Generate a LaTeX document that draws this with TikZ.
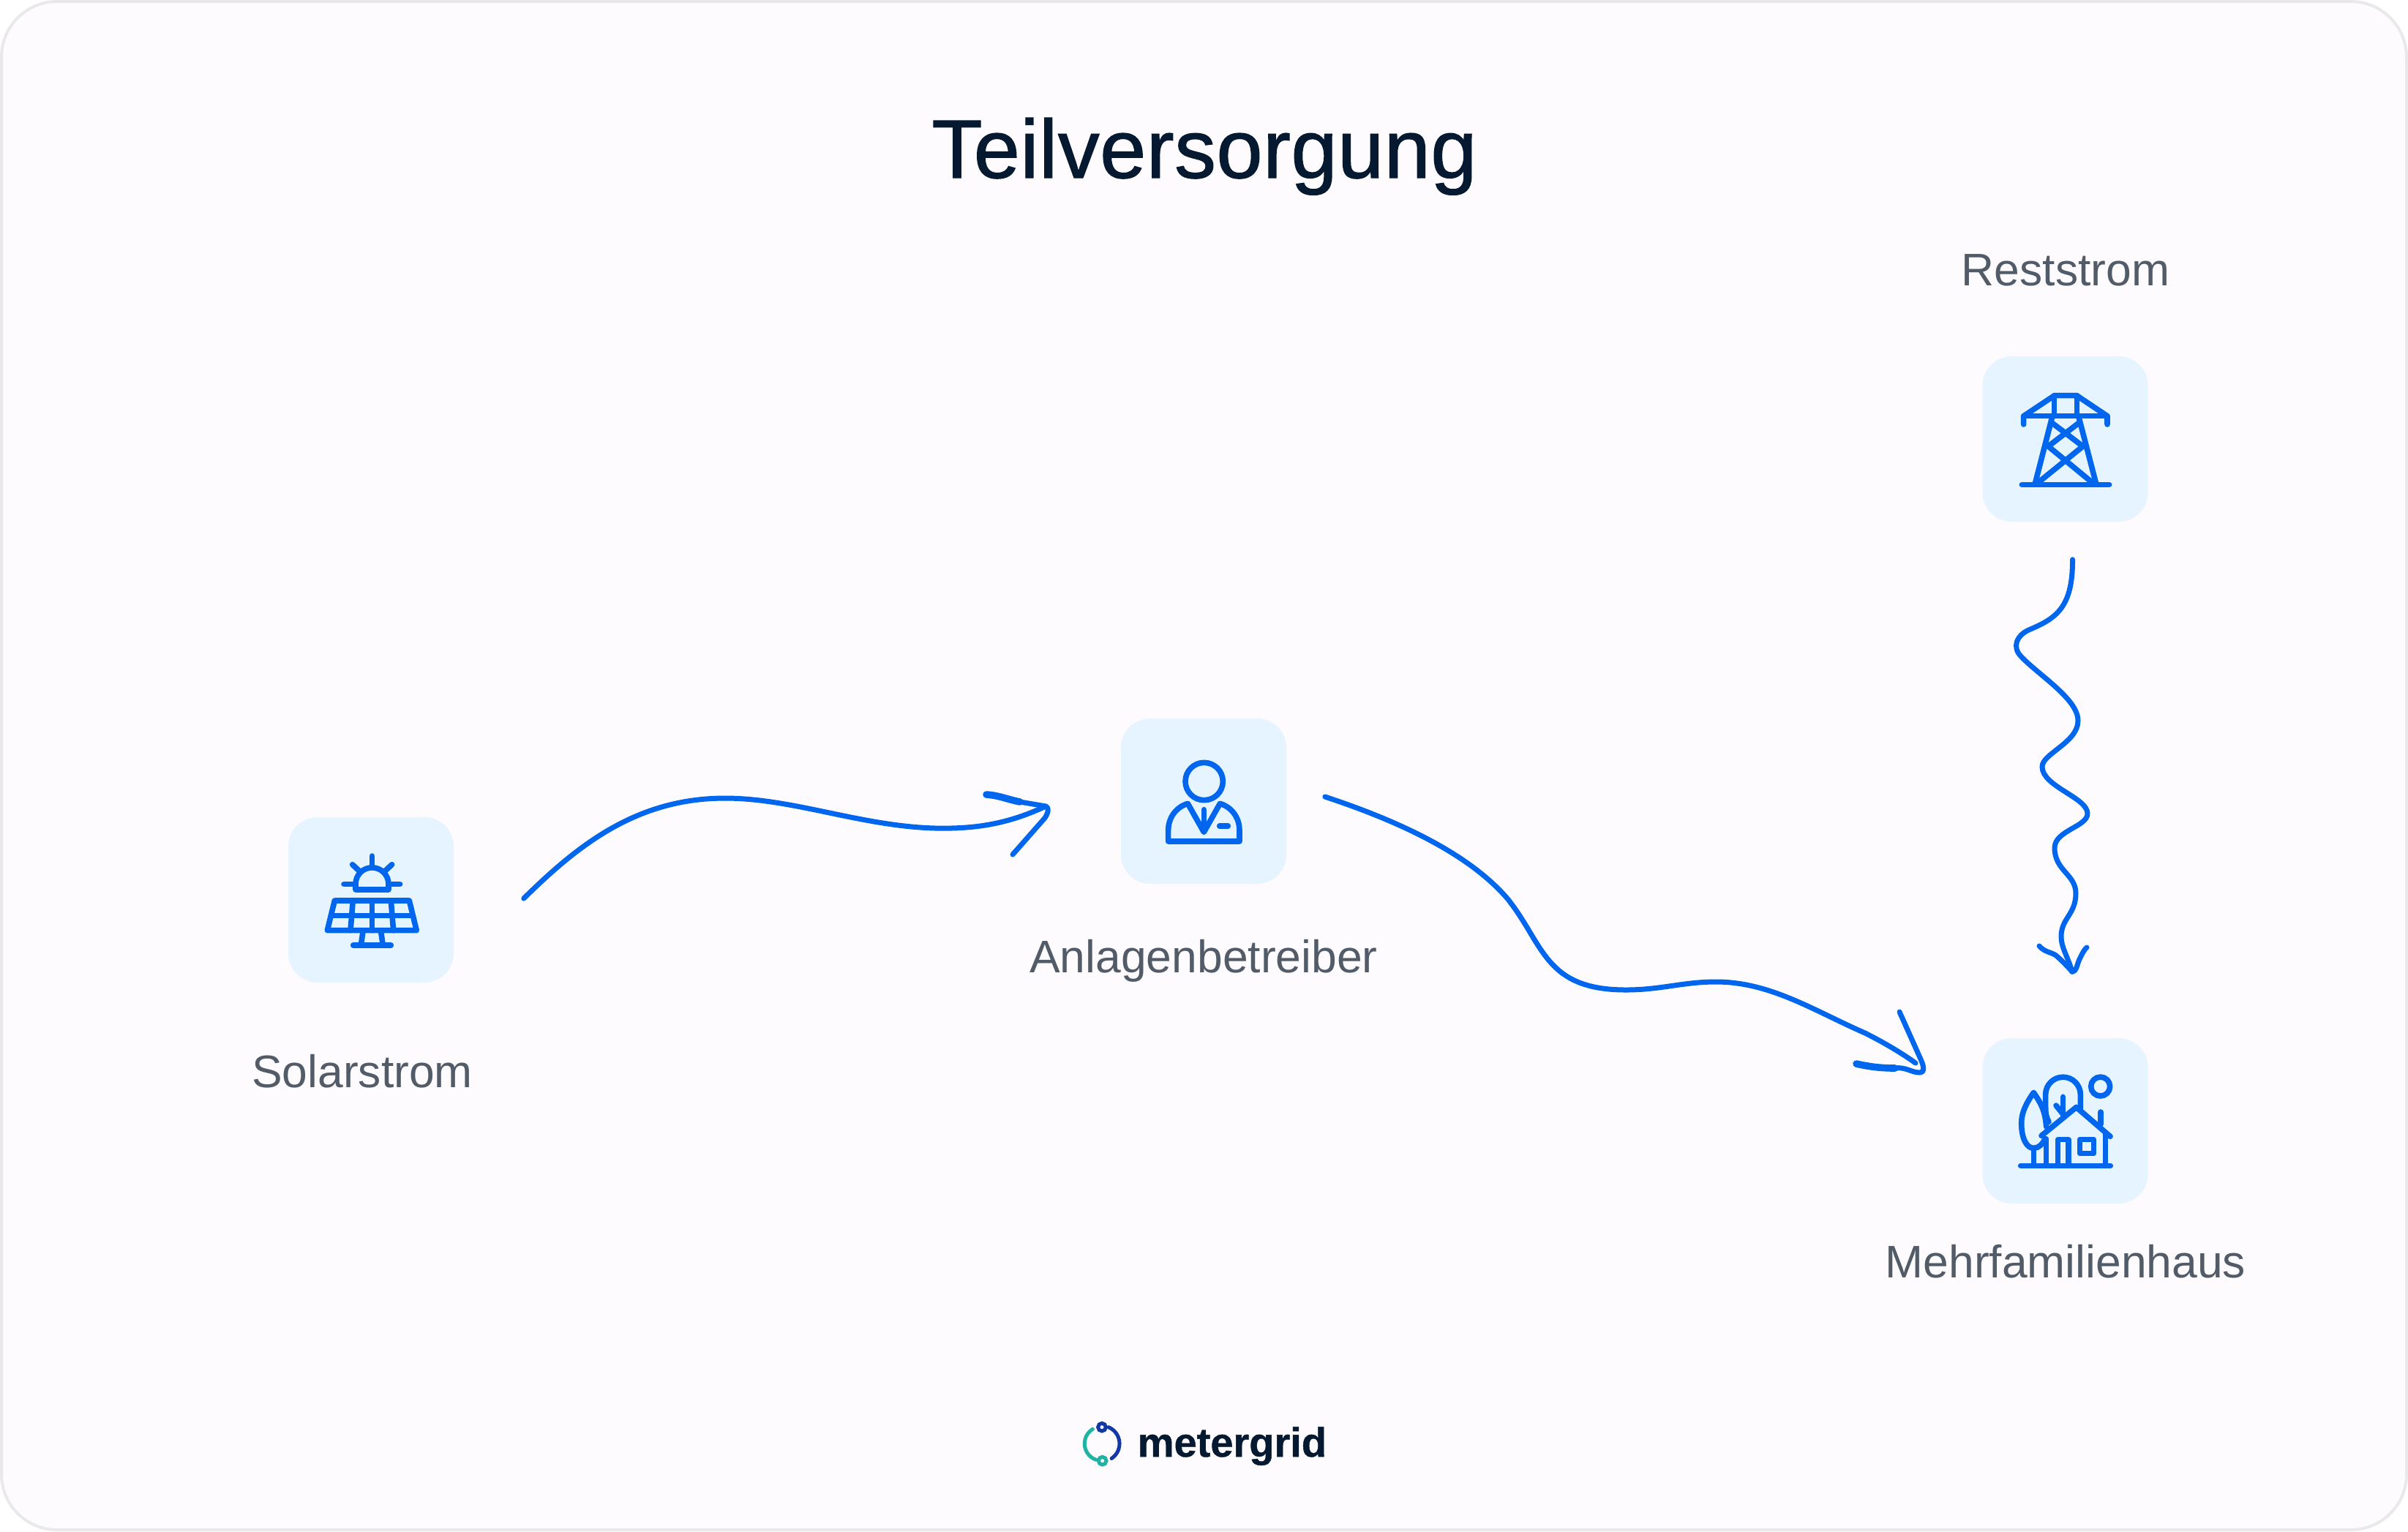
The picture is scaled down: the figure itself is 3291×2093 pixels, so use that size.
\documentclass[tikz,border=0pt]{standalone}
\usepackage{fontspec}
\setmainfont{Liberation Sans}
\newfontfamily\titlefont[FakeBold=1.2, LetterSpace=0.6]{Liberation Sans}
\newfontfamily\logofont[FakeBold=0.8]{Liberation Sans Bold}
\usetikzlibrary{calc}
\definecolor{cardfill}{HTML}{FDFBFE}
\definecolor{cardline}{HTML}{E9E9EC}
\definecolor{tilefill}{HTML}{E5F4FE}
\definecolor{iconblue}{HTML}{0066EE}
\definecolor{titleink}{HTML}{051A30}
\definecolor{labelink}{HTML}{525C68}
\definecolor{logoblue}{HTML}{1238A8}
\definecolor{logoteal}{HTML}{1FB3A3}
\begin{document}
\begin{tikzpicture}[x=.25pt, y=-.25pt] % единицы: пиксели исходной картинки
\tikzstyle{tile} = [rectangle, fill=tilefill, rounded corners=10pt, minimum size=56.5pt, inner sep=0pt] % плитка под значком
\tikzstyle{lbl} = [anchor=base, inner sep=0pt, text=labelink, font=\fontsize{15.6}{18}\selectfont] % подпись
\tikzstyle{icon} = [draw=iconblue, line width=1.9pt, line cap=round, line join=round] % линии значков
\tikzstyle{hand} = [draw=iconblue, line width=1.75pt, line cap=round, line join=round] % рукописные стрелки
\tikzstyle{barb} = [hand, line width=2.4pt]

\useasboundingbox (0,0) rectangle (3291,2093);
\draw[fill=cardfill, draw=cardline, line width=1pt, rounded corners=19pt] (2,2) rectangle (3289,2091);

\node[anchor=base, inner sep=0pt, text=titleink, font=\titlefont\fontsize{28.3}{32}\selectfont] (title) at (1646,243) {Teilversorgung};

\node[tile] (solar) at (507,1230) {};
\node[tile] (betreiber) at (1645,1095) {};
\node[tile] (mast) at (2822.5,600) {};
\node[tile] (haus) at (2822.5,1532) {};

\node[lbl] (solarlbl) at (495,1486) {Solarstrom};
\node[lbl] (betreiberlbl) at (1645,1329) {Anlagenbetreiber};
\node[lbl] (mastlbl) at (2823,390) {Reststrom};
\node[lbl] (hauslbl) at (2823,1746) {Mehrfamilienhaus};

\begin{scope}[shift={(solar.center)}, x=.08333pt, y=-.08333pt, shift={(-441,-420)}] % панель и солнце
	\draw[icon] (378,378) -- (378,355) arc (180:360:67.5) -- (513,378) -- cycle;
	\draw[icon] (445,240) -- (445,282);
	\draw[icon] (365,275) -- (395,303);
	\draw[icon] (527,275) -- (497,303);
	\draw[icon] (330,355) -- (375,355);
	\draw[icon] (515,355) -- (560,355);
	\draw[icon] (292,423) -- (598,423) -- (628,545) -- (262,545) -- cycle;
	\draw[icon] (277,484) -- (613,484);
	\draw[icon] (445,423) -- (445,545);
	\draw[icon] (367,423) -- (357,545);
	\draw[icon] (523,423) -- (533,545);
	\draw[icon] (408,550) -- (400,606);
	\draw[icon] (482,550) -- (490,606);
	\draw[icon] (368,606) -- (523,606);
\end{scope}

\begin{scope}[shift={(betreiber.center)}, x=.08333pt, y=-.08333pt, shift={(-405,-405)}] % человек
	\draw[icon] (407,324) circle (77);
	\draw[icon] (340,415) .. controls (290,430) and (260,475) .. (260,525) -- (260,570) -- (552,570) -- (552,525) .. controls (552,475) and (522,430) .. (472,415) -- (406,532) -- cycle;
	\draw[icon] (406,440) -- (406,525);
	\draw[icon] (470,507) -- (505,507);
\end{scope}

\begin{scope}[shift={(mast.center)}, x=.08333pt, y=-.08333pt, shift={(-427.5,-390)}] % опора
	\draw[icon] (257,330) -- (257,296) -- (383,212) -- (475,212) -- (600,296) -- (600,330);
	\draw[icon] (257,296) -- (600,296);
	\draw[icon] (383,212) -- (383,296);
	\draw[icon] (475,212) -- (475,296);
	\draw[icon] (375,296) -- (303,577);
	\draw[icon] (482,296) -- (555,577);
	\draw[icon] (250,577) -- (608,577);
	\draw[icon] (372,323) -- (500,420) -- (315,570);
	\draw[icon] (485,323) -- (358,420) -- (540,570);
\end{scope}

\begin{scope}[shift={(haus.center)}, x=.08333pt, y=-.08333pt, shift={(-427.5,-396)}] % дом
	\draw[icon] (245,580) -- (613,580);
	\draw[icon] (350,420) .. controls (345,350) and (325,320) .. (298,280) .. controls (270,320) and (248,360) .. (248,405) .. controls (248,470) and (270,508) .. (298,508) .. controls (320,508) and (335,490) .. (345,470);
	\draw[icon] (298,508) -- (298,580);
	\draw[icon] (350,470) -- (350,580);
	\draw[icon] (360,400) .. controls (352,385) and (347,370) .. (347,340) -- (347,288) arc (180:360:71.5) -- (490,345);
	\draw[icon] (418,298) -- (418,375);
	\draw[icon] (390,333) -- (418,368);
	\draw[icon] (330,457) -- (473,340) -- (612,460);
	\draw[icon] (573,360) -- (573,410);
	\draw[icon] (593,445) -- (593,580);
	\draw[icon] (397,580) -- (397,473) -- (441,473) -- (441,580);
	\draw[icon] (487,472) rectangle (545,530);
	\draw[icon] (572,255) circle (39);
\end{scope}

\coordinate (solarout) at ($(solar.east)+(95,-2)$);
\coordinate (betreiberin) at ($(betreiber.west)+(-102,7)$);
\coordinate (betreiberout) at ($(betreiber.east)+(52,-6)$);
\coordinate (hausin) at ($(haus.west)+(-85,-66)$);
\coordinate (mastout) at ($(mast.south)+(10,51)$);
\coordinate (hausoben) at ($(haus.north)+(9.5,-90)$);
\coordinate (barba) at (1348,1086);
\coordinate (barbb) at (1384,1168);
\coordinate (barbc) at (2537,1454);
\coordinate (barbd) at (2596,1383);
\coordinate (barbe) at (2787,1293);
\coordinate (barbf) at (2852,1295);

\draw[hand] (solarout) .. controls (790,1155) and (870,1091) .. (991,1091) .. controls (1090,1091) and (1190,1135) .. (1300,1132) .. controls (1340,1131) and (1380,1125) .. (betreiberin);
\draw[barb] (barba) .. controls (1365,1087) and (1378,1093) .. (1394,1096);
\draw[hand] (1394,1096) -- (betreiberin) .. controls (1434,1104) and (1433,1110) .. (1428,1118) -- (barbb);

\draw[hand] (betreiberout) .. controls (1920,1125) and (2010,1170) .. (2060,1228) .. controls (2110,1290) and (2110,1353) .. (2222,1353) .. controls (2270,1353) and (2300,1342) .. (2345,1342) .. controls (2420,1342) and (2480,1382) .. (2549,1412) .. controls (2575,1425) and (2600,1440) .. (2618,1453);
\draw[barb] (barbc) .. controls (2555,1458) and (2570,1460) .. (2590,1460);
\draw[hand] (2590,1460) .. controls (2605,1458) and (2612,1466) .. (hausin) .. controls (2630,1466) and (2630,1460) .. (2626,1450) -- (barbd);

\draw[hand] (mastout) .. controls (2833,830) and (2810,845) .. (2775,860) .. controls (2755,868) and (2750,885) .. (2762,897) .. controls (2785,922) and (2840,955) .. (2840,985) .. controls (2840,1015) and (2791,1030) .. (2791,1048) .. controls (2791,1075) and (2853,1090) .. (2853,1112) .. controls (2853,1130) and (2808,1135) .. (2808,1159) .. controls (2808,1190) and (2837,1195) .. (2837,1221) .. controls (2837,1250) and (2817,1255) .. (2817,1280) .. controls (2817,1295) and (2825,1305) .. (hausoben);
\draw[hand] (barbe) .. controls (2795,1302) and (2803,1301) .. (2810,1306) .. controls (2818,1313) and (2825,1320) .. (hausoben) .. controls (2838,1328) and (2838,1320) .. (2842,1311) .. controls (2846,1303) and (2849,1297) .. (barbf);

% логотип внизу
\begin{scope}[shift={(1440,1910)}, x=.08333pt, y=-.08333pt]
	\draw[draw=logoblue, line width=1.25pt, line cap=round] (225,122) arc (-67.6:56.5:73);
	\draw[draw=logoteal, line width=1.25pt, line cap=round] (160,130) arc (238.4:108.7:70);
	\draw[draw=logoblue, line width=1.25pt] (198,122) circle (16);
	\draw[draw=logoteal, line width=1.25pt] (200,260) circle (16);
\end{scope}
\node[anchor=base west, inner sep=0pt, text=titleink, font=\logofont\fontsize{14}{16}\selectfont] (logotext) at (1554,1991) {metergrid};
\end{tikzpicture}
\end{document}
